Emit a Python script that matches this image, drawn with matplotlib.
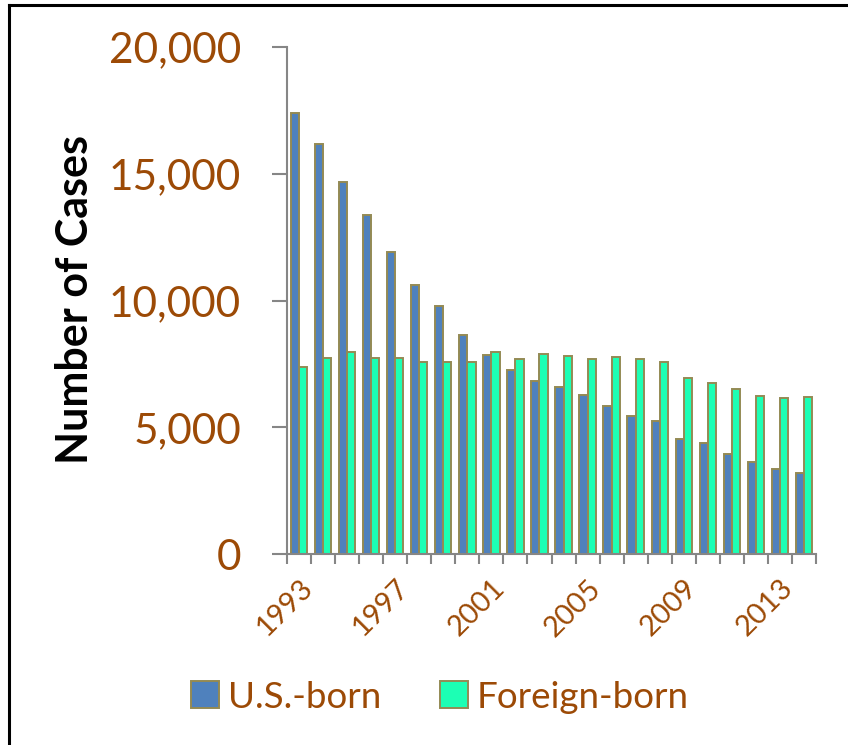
import matplotlib.pyplot as plt
import numpy as np
from matplotlib.lines import Line2D
from matplotlib.patches import Patch

anos = list(range(1993, 2015))
us_born = [17400, 16180, 14670, 13380, 11910, 10620, 9795, 8640, 7853, 7274, 6840,
           6604, 6277, 5843, 5461, 5264, 4531, 4374, 3952, 3637, 3349, 3176]
foreign_born = [7392, 7746, 7971, 7723, 7723, 7589, 7589, 7589, 7971, 7710, 7904,
                7814, 7707, 7786, 7707, 7589, 6946, 6761, 6501, 6249, 6170, 6198]
rotulos_y = ['0', '5,000', '10,000', '15,000', '20,000']

marrom = '#9C4A06'
cinza = '#868686'
borda = '#948A54'

plt.rcParams['font.family'] = ['Lato', 'DejaVu Sans']

fig = plt.figure(figsize=(8.48, 7.45), dpi=100)
ax = fig.add_axes([287 / 848, 1 - 554 / 745, 529 / 848, 507 / 745])

x = np.arange(len(anos))
w = 0.34
ax.bar(x - w / 2, us_born, w, color='#4F81BD', edgecolor=borda, linewidth=1.4)
ax.bar(x + w / 2, foreign_born, w, color='#1CFFB4', edgecolor=borda, linewidth=1.4)

ax.set_xlim(-0.5, len(anos) - 0.5)
ax.set_ylim(0, 20000)

ax.set_yticks([0, 5000, 10000, 15000, 20000])
ax.set_yticklabels(rotulos_y, fontsize=30.5, color=marrom)
ax.tick_params(axis='y', length=11, width=1.5, color=cinza, pad=22)

ax.set_xticks(x[::4])
ax.set_xticklabels([str(a) for a in anos[::4]], rotation=45, ha='right',
                   rotation_mode='anchor', fontsize=21, color=marrom)
ax.set_xticks(np.arange(-0.5, len(anos)), minor=True)
ax.tick_params(axis='x', which='major', length=0, pad=15)
ax.tick_params(axis='x', which='minor', length=7, width=1.5, color=cinza)

for lado in ['top', 'right']:
    ax.spines[lado].set_visible(False)
for lado in ['left', 'bottom']:
    ax.spines[lado].set_color(cinza)
    ax.spines[lado].set_linewidth(1.5)

fig.text(75 / 848, 1 - 299 / 745, 'Number of Cases', rotation=90, fontsize=31,
         fontweight='bold', ha='center', va='center', color='black')

handles = [Patch(facecolor='#4F81BD', edgecolor=borda, linewidth=1.4),
           Patch(facecolor='#1CFFB4', edgecolor=borda, linewidth=1.4)]
fig.legend(handles, ['U.S.-born', 'Foreign-born'], loc='center',
           bbox_to_anchor=(440 / 848, 1 - 697 / 745), ncol=2, frameon=False,
           fontsize=26.5, labelcolor=marrom, handlelength=0.75, handleheight=0.75,
           handletextpad=0.25, columnspacing=1.6)

# moldura (só topo e esquerda aparecem)
fig.add_artist(Line2D([9 / 848, 1], [1 - 5 / 745, 1 - 5 / 745], color='black', lw=2.2))
fig.add_artist(Line2D([9 / 848, 9 / 848], [0, 1 - 5 / 745], color='black', lw=2.2))

fig.savefig('out.png', dpi=100)
